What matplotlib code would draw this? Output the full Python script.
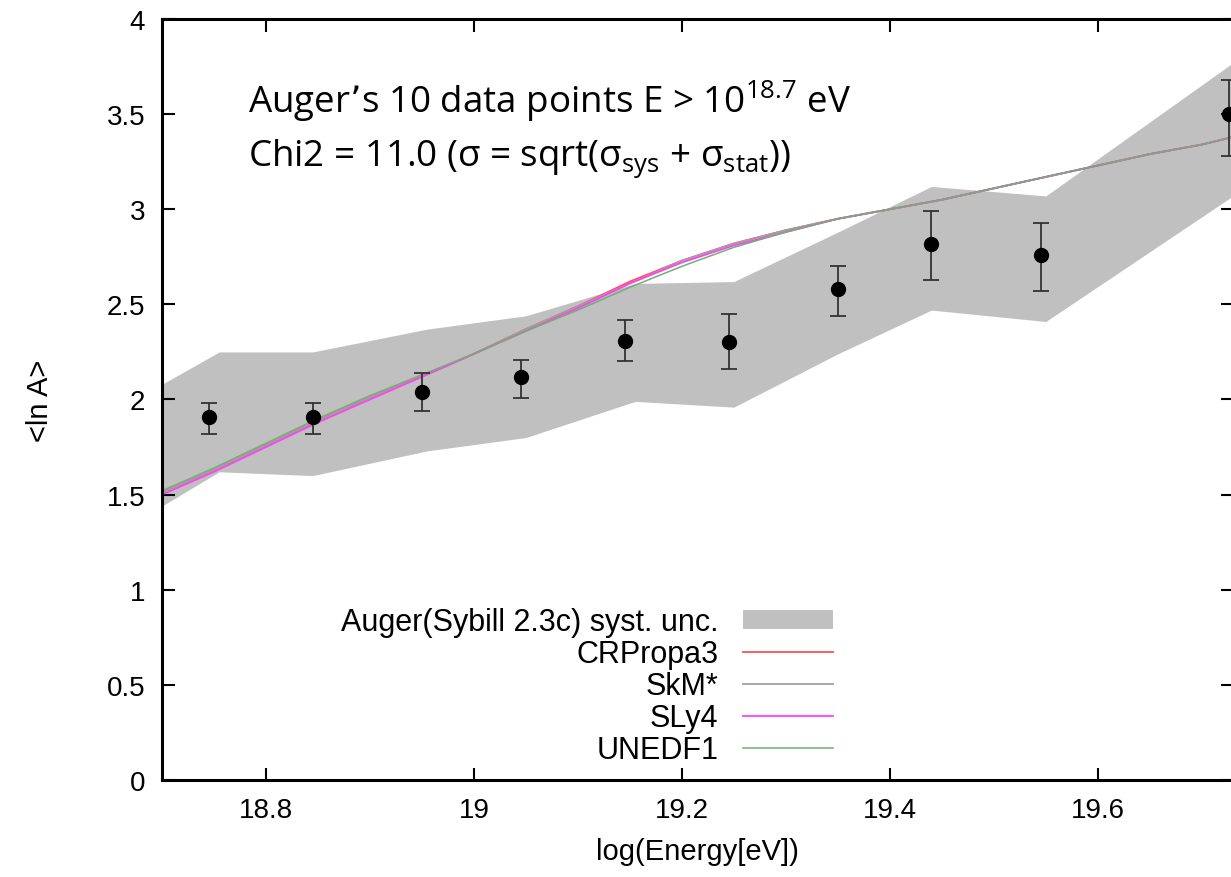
import numpy as np
import matplotlib
matplotlib.use('Agg')
import matplotlib.pyplot as plt
from matplotlib.ticker import FormatStrFormatter
from matplotlib.patches import Patch

plt.rcParams['font.family'] = ['Liberation Sans', 'DejaVu Sans']

# Auger <ln A> data points (Sybill 2.3c)
logE = [18.745, 18.845, 18.95, 19.045, 19.145, 19.245, 19.35, 19.44, 19.545, 19.726]
lnA = [1.91, 1.91, 2.04, 2.12, 2.31, 2.30, 2.58, 2.82, 2.76, 3.50]
lnA_hi = [1.98, 1.98, 2.14, 2.21, 2.42, 2.45, 2.70, 2.99, 2.93, 3.68]
lnA_lo = [1.82, 1.82, 1.94, 2.01, 2.20, 2.16, 2.44, 2.63, 2.57, 3.28]

# systematic band
band_x = [18.70, 18.755, 18.845, 18.955, 19.05, 19.155, 19.25, 19.35, 19.44, 19.55, 19.73]
band_hi = [2.08, 2.25, 2.25, 2.37, 2.44, 2.61, 2.62, 2.88, 3.12, 3.07, 3.77]
band_lo = [1.44, 1.62, 1.60, 1.73, 1.80, 1.99, 1.96, 2.24, 2.47, 2.41, 3.07]

# model curves
model_x = [18.70, 18.75, 18.80, 18.85, 18.90, 18.95, 19.00, 19.05, 19.10, 19.15, 19.20,
           19.25, 19.30, 19.35, 19.40, 19.45, 19.50, 19.55, 19.60, 19.65, 19.70, 19.73]
crpropa = [1.51, 1.63, 1.76, 1.89, 2.01, 2.12, 2.24, 2.37, 2.49, 2.62, 2.73,
           2.82, 2.89, 2.95, 3.00, 3.05, 3.11, 3.17, 3.23, 3.29, 3.34, 3.38]
skm = [1.51, 1.63, 1.76, 1.89, 2.01, 2.12, 2.24, 2.37, 2.49, 2.61, 2.73,
       2.82, 2.89, 2.95, 3.00, 3.05, 3.11, 3.17, 3.23, 3.29, 3.34, 3.38]
sly4 = [1.50, 1.62, 1.75, 1.88, 2.00, 2.12, 2.24, 2.36, 2.48, 2.61, 2.72,
        2.81, 2.88, 2.95, 3.00, 3.05, 3.11, 3.17, 3.23, 3.29, 3.34, 3.38]
unedf1 = [1.52, 1.64, 1.77, 1.90, 2.02, 2.13, 2.24, 2.36, 2.47, 2.59, 2.70,
          2.80, 2.88, 2.95, 3.00, 3.05, 3.11, 3.17, 3.23, 3.29, 3.34, 3.38]

fig = plt.figure(figsize=(12.31, 8.78), dpi=100)
ax = fig.add_axes([0.1316, 0.1105, 0.8700, 0.8667])

ax.fill_between(band_x, band_lo, band_hi, color='#c0c0c0', linewidth=0, zorder=1)
ax.plot(model_x, crpropa, color='#ff5050', lw=1.3, zorder=2)
ax.plot(model_x, skm, color='#a0a0a0', lw=1.3, zorder=2)
ax.plot(model_x, sly4, color='#ff40ff', lw=1.3, zorder=2)
ax.plot(model_x, unedf1, color='#70b070', lw=1.1, zorder=2)

yerr = [np.array(lnA) - np.array(lnA_lo), np.array(lnA_hi) - np.array(lnA)]
ax.errorbar(logE, lnA, yerr=yerr, fmt='o', color='black', ecolor='#333333',
            markersize=10, elinewidth=1.3, capsize=6, capthick=1.3, zorder=3)

ax.set_xlim(18.7, 19.73)
ax.set_ylim(0, 4)
ax.set_xticks([18.8, 19.0, 19.2, 19.4, 19.6])
ax.set_yticks(np.arange(0, 4.01, 0.5))
ax.xaxis.set_major_formatter(FormatStrFormatter('%g'))
ax.yaxis.set_major_formatter(FormatStrFormatter('%g'))
ax.tick_params(direction='in', length=9, width=1.5, labelsize=20, pad=12,
               top=True, right=True)
for sp in ax.spines.values():
    sp.set_linewidth(2.2)

ax.set_xlabel('log(Energy[eV])', fontsize=21, labelpad=10)
ax.set_ylabel('<ln A>', fontsize=21, labelpad=38)

handles = [Patch(facecolor='#c0c0c0', edgecolor='none'),
           plt.Line2D([], [], color='#ff5050', lw=1.3),
           plt.Line2D([], [], color='#a0a0a0', lw=1.3),
           plt.Line2D([], [], color='#ff40ff', lw=1.3),
           plt.Line2D([], [], color='#70b070', lw=1.1)]
labels = ['Auger(Sybill 2.3c) syst. unc.', 'CRPropa3', 'SkM*', 'SLy4', 'UNEDF1']
ax.legend(handles, labels, loc='lower right', bbox_to_anchor=(0.627, 0.02),
          frameon=False, markerfirst=False, fontsize=22, handlelength=2.97,
          handleheight=0.55, handletextpad=0.8, labelspacing=0.06, borderpad=0,
          borderaxespad=0)

tfont = ['Open Sans', 'DejaVu Sans']
ax.text(0.08, 0.893, r'Auger’s 10 data points E > 10$^{\mathregular{18.7}}$ eV',
        transform=ax.transAxes, fontsize=26.5, family=tfont, va='center')
ax.text(0.08, 0.818, r'Chi2 = 11.0 (σ = sqrt(σ$_{\mathregular{sys}}$ + σ$_{\mathregular{stat}}$))',
        transform=ax.transAxes, fontsize=26.5, family=tfont, va='center')

fig.savefig('out.png', dpi=100)
